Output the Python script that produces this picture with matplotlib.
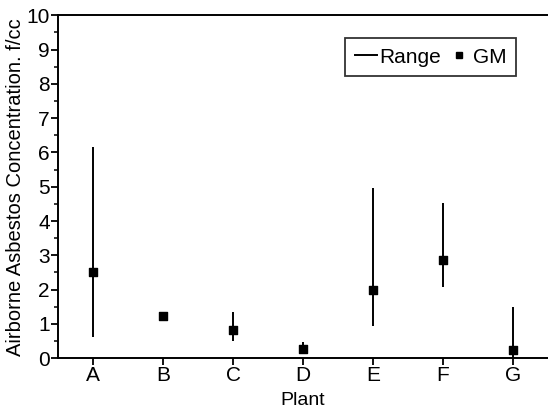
import numpy as np
import matplotlib.pyplot as plt
from matplotlib.lines import Line2D
from matplotlib.ticker import MultipleLocator

plt.rcParams['font.family'] = ['Liberation Sans', 'DejaVu Sans']

plants = ["A", "B", "C", "D", "E", "F", "G"]
gm = [2.5, 1.22, 0.82, 0.27, 2.0, 2.87, 0.24]
range_low = [0.62, 1.22, 0.50, 0.17, 0.93, 2.08, 0.0]
range_high = [6.15, 1.22, 1.34, 0.47, 4.96, 4.52, 1.50]

fig = plt.figure(figsize=(5.48, 4.15), dpi=100)
ax = fig.add_axes([0.106, 0.137, 0.894, 0.826])

x = np.arange(len(plants))
ax.vlines(x, range_low, range_high, color='black', linewidth=1.4)
ax.scatter(x, gm, marker='s', s=26, color='black', zorder=3)

ax.set_xlim(-0.5, 6.5)
ax.set_ylim(0, 10)
ax.set_xticks(x)
ax.set_xticklabels(plants)
ax.yaxis.set_major_locator(MultipleLocator(1))
ax.yaxis.set_minor_locator(MultipleLocator(0.5))

ax.spines['right'].set_visible(False)
for side in ['left', 'bottom', 'top']:
    ax.spines[side].set_linewidth(1.4)

ax.tick_params(axis='both', which='major', labelsize=15, length=5, width=1.3, pad=1)
ax.tick_params(axis='y', which='minor', length=3, width=1.1)

ax.set_xlabel("Plant", fontsize=14, labelpad=5)
ax.set_ylabel("Airborne Asbestos Concentration. f/cc", fontsize=14.5, labelpad=1)

handles = [Line2D([], [], color='black', linewidth=1.4),
           Line2D([], [], color='black', marker='s', markersize=4, linestyle='none')]
leg = ax.legend(handles, ["Range", "GM"], ncol=2, loc='upper left',
                bbox_to_anchor=(0.586, 0.933), borderaxespad=0, fontsize=15,
                frameon=True, fancybox=False, edgecolor='black', handlelength=1.1,
                handletextpad=0.1, columnspacing=0.3, borderpad=0.45)
leg.get_frame().set_linewidth(1.3)

fig.savefig("out.png", dpi=100)
